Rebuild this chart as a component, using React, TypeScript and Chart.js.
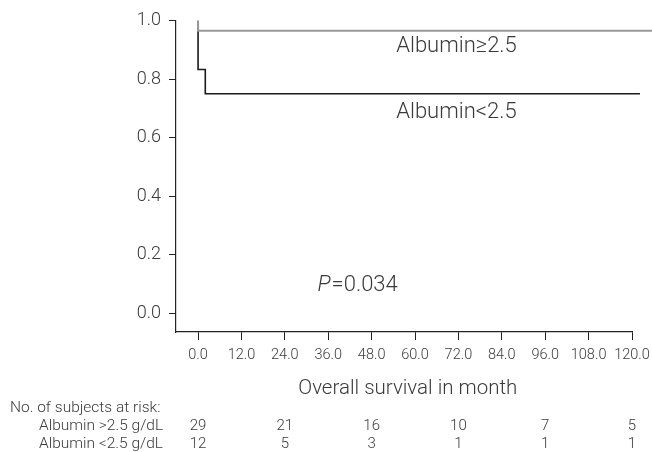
import React, { useEffect, useRef } from "react";
import { Chart, registerables } from "chart.js";

Chart.register(...registerables);

const xTicks = [0, 12, 24, 36, 48, 60, 72, 84, 96, 108, 120];
const yTicks = [0, 0.2, 0.4, 0.6, 0.8, 1.0];

const highTimes = [0, 0, 126];
const highSurv = [1.0, 0.9655, 0.9655];
const lowTimes = [0, 0, 2, 2, 122.2];
const lowSurv = [1.0, 0.8333, 0.8333, 0.75, 0.75];

const riskTimes = [0, 24, 48, 72, 96, 120];
const riskHigh = [29, 21, 16, 10, 7, 5];
const riskLow = [12, 5, 3, 1, 1, 1];
const riskTitle = "No. of subjects at risk:";
const riskLabels = ["Albumin >2.5 g/dL", "Albumin <2.5 g/dL"];

const xTitle = "Overall survival in month";
const highLabel = "Albumin\u22652.5";
const lowLabel = "Albumin<2.5";
const pText = "=0.034";

const FONT = "Roboto, 'Liberation Sans', sans-serif";
const TXT = "#3a3a3a";
const AX = "#222";

const textPlugin = {
  id: "kmText",
  afterDraw(chart: any) {
    const ctx = chart.ctx;
    const xs = chart.scales.x;
    const ys = chart.scales.y;
    ctx.save();
    ctx.fillStyle = TXT;
    ctx.textBaseline = "middle";
    // curve labels
    ctx.font = `300 22px ${FONT}`;
    ctx.textAlign = "left";
    ctx.fillText(highLabel, xs.getPixelForValue(54.8), ys.getPixelForValue(0.912));
    ctx.fillText(lowLabel, xs.getPixelForValue(54.8), ys.getPixelForValue(0.686));
    // P value
    const px = xs.getPixelForValue(33);
    const py = ys.getPixelForValue(0.094);
    ctx.font = `italic 300 22px ${FONT}`;
    ctx.fillText("P", px, py);
    const pw = ctx.measureText("P").width;
    ctx.font = `300 22px ${FONT}`;
    ctx.fillText(pText, px + pw + 1, py);
    // x title
    ctx.font = `300 20.5px ${FONT}`;
    ctx.textAlign = "center";
    ctx.fillText(xTitle, xs.getPixelForValue(58), 389);
    // risk table
    ctx.font = `300 15.5px ${FONT}`;
    ctx.textAlign = "left";
    ctx.fillText(riskTitle, 10, 408);
    ctx.fillText(riskLabels[0], 39, 426);
    ctx.fillText(riskLabels[1], 39, 444);
    ctx.font = `300 15px ${FONT}`;
    ctx.textAlign = "center";
    riskTimes.forEach((t, i) => {
      const x = xs.getPixelForValue(t);
      ctx.fillText(String(riskHigh[i]), x, 426);
      ctx.fillText(String(riskLow[i]), x, 444);
    });
    ctx.restore();
  },
};

export default function App() {
  const ref = useRef<HTMLCanvasElement>(null);
  useEffect(() => {
    if (!ref.current) return;
    const chart = new Chart(ref.current, {
      type: "line",
      data: {
        datasets: [
          {
            label: highLabel,
            data: highTimes.map((t, i) => ({ x: t, y: highSurv[i] })),
            borderColor: "#9a9a9a",
            borderWidth: 2,
            pointRadius: 0,
            fill: false,
            tension: 0,
            clip: false as any,
          },
          {
            label: lowLabel,
            data: lowTimes.map((t, i) => ({ x: t, y: lowSurv[i] })),
            borderColor: "#1a1a1a",
            borderWidth: 1.6,
            pointRadius: 0,
            fill: false,
            tension: 0,
            clip: false as any,
          },
        ],
      },
      options: {
        responsive: false,
        animation: false,
        events: [],
        layout: { padding: { left: 0, top: 20.7, right: 20, bottom: 0 } },
        plugins: { legend: { display: false }, tooltip: { enabled: false } },
        scales: {
          x: {
            type: "linear",
            min: -6.1,
            max: 120,
            afterFit: (s: any) => {
              s.height = 120;
              s.paddingLeft = 0;
              s.paddingRight = 0;
            },
            afterBuildTicks: (s: any) => {
              s.ticks = xTicks.map((v) => ({ value: v }));
            },
            grid: {
              drawOnChartArea: false,
              drawTicks: true,
              tickLength: 8,
              color: AX,
              tickWidth: 1,
            },
            border: { display: true, color: AX, width: 1.2 },
            ticks: {
              padding: 7,
              color: TXT,
              maxRotation: 0,
              autoSkip: false,
              font: { family: FONT, size: 14.5, weight: "300" as any },
              callback: (v: any) => Number(v).toFixed(1),
            },
          },
          y: {
            type: "linear",
            min: -0.065,
            max: 1.0,
            afterFit: (s: any) => {
              s.width = 176;
            },
            afterBuildTicks: (s: any) => {
              s.ticks = yTicks.map((v) => ({ value: v }));
            },
            grid: {
              drawOnChartArea: false,
              drawTicks: true,
              tickLength: 7,
              color: AX,
              tickWidth: 1,
            },
            border: { display: true, color: AX, width: 1.2 },
            ticks: {
              padding: 8,
              color: TXT,
              font: { family: FONT, size: 18, weight: "300" as any },
              callback: (v: any) => Number(v).toFixed(1),
            },
          },
        },
      },
      plugins: [textPlugin],
    });
    return () => chart.destroy();
  }, []);
  return (
    <div style={{ position: "absolute", left: 0, top: 0, width: 652, height: 452, background: "#fff" }}>
      <canvas ref={ref} width={652} height={452} />
    </div>
  );
}
